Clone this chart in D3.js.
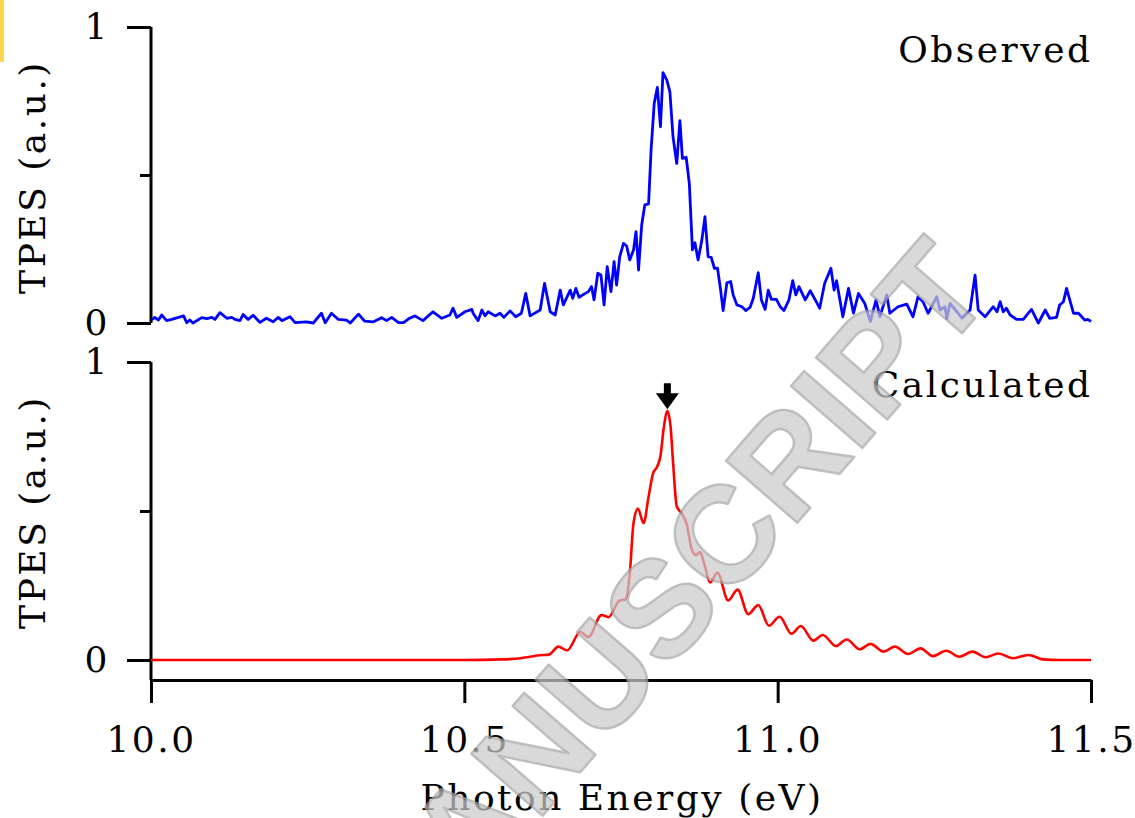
<!DOCTYPE html>
<html>
<head>
<meta charset="utf-8">
<script src="https://cdn.jsdelivr.net/npm/d3@7"></script>
<style>
  body { margin: 0; background: #fff; }
  text { font-family: "DejaVu Serif", serif; fill: #000; }
</style>
</head>
<body>
<div id="chart"></div>
<script>
// Observed TPES (top panel)
const obsEnergy = [
  10.001, 10.006, 10.012, 10.017, 10.025, 10.033, 10.052, 10.057, 10.062, 10.067,
  10.081, 10.089, 10.097, 10.102, 10.110, 10.121, 10.129, 10.134, 10.142, 10.147,
  10.155, 10.163, 10.174, 10.184, 10.195, 10.203, 10.209, 10.222, 10.230, 10.248,
  10.259, 10.272, 10.278, 10.288, 10.299, 10.312, 10.318, 10.331, 10.341, 10.355,
  10.368, 10.376, 10.384, 10.395, 10.403, 10.411, 10.421, 10.434, 10.450, 10.464,
  10.477, 10.482, 10.488, 10.501, 10.512, 10.514, 10.522, 10.528, 10.533, 10.538,
  10.549, 10.557, 10.563, 10.573, 10.582, 10.591, 10.598, 10.605, 10.621, 10.628,
  10.637, 10.645, 10.653, 10.658, 10.669, 10.673, 10.678, 10.683, 10.693, 10.698,
  10.703, 10.707, 10.713, 10.718, 10.723, 10.728, 10.734, 10.739, 10.743, 10.748,
  10.754, 10.759, 10.764, 10.770, 10.774, 10.778, 10.783, 10.788, 10.794, 10.798,
  10.803, 10.808, 10.813, 10.817, 10.823, 10.828, 10.833, 10.839, 10.844, 10.848,
  10.854, 10.859, 10.864, 10.868, 10.873, 10.879, 10.884, 10.889, 10.894, 10.899,
  10.904, 10.909, 10.913, 10.919, 10.925, 10.929, 10.935, 10.943, 10.949, 10.956,
  10.961, 10.969, 10.974, 10.980, 10.985, 10.990, 10.998, 11.004, 11.010, 11.018,
  11.024, 11.029, 11.034, 11.044, 11.052, 11.060, 11.067, 11.075, 11.085, 11.090,
  11.094, 11.104, 11.113, 11.121, 11.129, 11.139, 11.148, 11.157, 11.163, 11.174,
  11.179, 11.192, 11.206, 11.216, 11.224, 11.232, 11.240, 11.254, 11.259, 11.267,
  11.270, 11.275, 11.286, 11.294, 11.307, 11.315, 11.320, 11.331, 11.344, 11.350,
  11.355, 11.360, 11.365, 11.371, 11.381, 11.392, 11.400, 11.405, 11.416, 11.427,
  11.434, 11.445, 11.450, 11.456, 11.461, 11.472, 11.480, 11.490, 11.495, 11.500
];
const obsTpes = [
  0.010, 0.019, 0.010, 0.027, 0.008, 0.012, 0.024, 0.001, 0.010, 0.000,
  0.018, 0.015, 0.019, 0.012, 0.035, 0.016, 0.019, 0.012, 0.008, 0.029,
  0.012, 0.026, 0.002, 0.016, 0.004, 0.019, 0.008, 0.021, 0.001, 0.004,
  0.000, 0.033, 0.001, 0.033, 0.012, 0.010, 0.000, 0.030, 0.006, 0.004,
  0.018, 0.008, 0.019, 0.001, 0.001, 0.014, 0.024, 0.008, 0.038, 0.016,
  0.027, 0.050, 0.019, 0.038, 0.046, 0.033, 0.008, 0.044, 0.024, 0.038,
  0.024, 0.033, 0.019, 0.041, 0.021, 0.033, 0.100, 0.024, 0.044, 0.134,
  0.038, 0.027, 0.111, 0.061, 0.111, 0.083, 0.117, 0.087, 0.100, 0.106,
  0.123, 0.078, 0.168, 0.162, 0.061, 0.190, 0.106, 0.207, 0.128, 0.224,
  0.269, 0.260, 0.213, 0.247, 0.309, 0.179, 0.331, 0.399, 0.402, 0.584,
  0.742, 0.796, 0.663, 0.846, 0.821, 0.782, 0.629, 0.539, 0.684, 0.556,
  0.560, 0.472, 0.247, 0.271, 0.213, 0.280, 0.359, 0.224, 0.222, 0.185,
  0.185, 0.111, 0.042, 0.136, 0.140, 0.095, 0.061, 0.055, 0.042, 0.053,
  0.083, 0.170, 0.078, 0.046, 0.111, 0.080, 0.080, 0.055, 0.042, 0.078,
  0.143, 0.095, 0.123, 0.078, 0.109, 0.078, 0.050, 0.134, 0.185, 0.111,
  0.143, 0.021, 0.117, 0.033, 0.100, 0.066, 0.005, 0.078, 0.021, 0.095,
  0.033, 0.055, 0.064, 0.021, 0.089, 0.072, 0.033, 0.089, 0.044, 0.055,
  0.016, 0.066, 0.038, 0.016, 0.044, 0.162, 0.044, 0.021, 0.055, 0.038,
  0.072, 0.038, 0.050, 0.027, 0.012, 0.012, 0.033, 0.046, 0.000, 0.044,
  0.016, 0.019, 0.061, 0.072, 0.117, 0.033, 0.033, 0.010, 0.012, 0.005
];

// Calculated TPES (bottom panel): turning points of the smooth curve
const calcEnergy = [
  10.000, 10.300, 10.500, 10.560, 10.590, 10.605, 10.620, 10.635, 10.650, 10.664,
  10.685, 10.698, 10.719, 10.730, 10.748, 10.757, 10.764, 10.770, 10.777, 10.786,
  10.794, 10.801, 10.808, 10.813, 10.818, 10.824, 10.829, 10.833, 10.839, 10.847,
  10.855, 10.863, 10.870, 10.876, 10.883, 10.892, 10.904, 10.921, 10.936, 10.953,
  10.969, 10.986, 11.003, 11.022, 11.037, 11.057, 11.072, 11.093, 11.110, 11.131,
  11.148, 11.169, 11.187, 11.208, 11.228, 11.248, 11.269, 11.290, 11.311, 11.332,
  11.352, 11.376, 11.400, 11.424, 11.450, 11.500
];
const calcTpes = [
  0.000, 0.000, 0.000, 0.002, 0.006, 0.011, 0.016, 0.018, 0.045, 0.032,
  0.094, 0.077, 0.151, 0.144, 0.200, 0.203, 0.290, 0.460, 0.508, 0.459,
  0.548, 0.625, 0.650, 0.685, 0.775, 0.835, 0.785, 0.665, 0.515, 0.492,
  0.455, 0.370, 0.352, 0.362, 0.322, 0.260, 0.293, 0.200, 0.236, 0.154,
  0.184, 0.115, 0.145, 0.088, 0.114, 0.065, 0.084, 0.047, 0.069, 0.036,
  0.054, 0.028, 0.045, 0.020, 0.039, 0.013, 0.031, 0.011, 0.028, 0.009,
  0.022, 0.006, 0.017, 0.002, 0.000, 0.000
];

const xTicks = [10.0, 10.5, 11.0, 11.5];
const yTicks = [0, 1];
const yMinorTicks = [0.5];
const panelLabels = ["Observed", "Calculated"];

const W = 1135, H = 818;
const fontSize = "36px", spacing = "2.5px";

const svg = d3.select("#chart").append("svg")
  .attr("width", W)
  .attr("height", H);

// small yellow mark at the top-left corner of the page
svg.append("rect")
  .attr("x", 0).attr("y", 0)
  .attr("width", 4).attr("height", 62)
  .attr("fill", "#ffd44f");

// Scales
const x = d3.scaleLinear().domain([10, 11.5]).range([151, 1091]);
const yTop = d3.scaleLinear().domain([0, 1]).range([323, 27]);
const yBot = d3.scaleLinear().domain([0, 1]).range([660, 362]);
const xAxisY = 680;

// Y axes for both panels
function drawYAxis(scale, bottomEnd) {
  const g = svg.append("g").attr("transform", "translate(" + x(10) + ",0)");
  g.append("line")
    .attr("x1", 0).attr("x2", 0)
    .attr("y1", scale(1)).attr("y2", bottomEnd)
    .attr("stroke", "#000").attr("stroke-width", 3);
  const major = g.append("g")
    .call(d3.axisLeft(scale).tickValues(yTicks).tickFormat(d3.format("d"))
      .tickSize(24).tickPadding(17).tickSizeOuter(0));
  const minor = g.append("g")
    .call(d3.axisLeft(scale).tickValues(yMinorTicks).tickFormat("")
      .tickSize(11).tickSizeOuter(0));
  [major, minor].forEach(a => {
    a.select(".domain").remove();
    a.selectAll("line").attr("stroke-width", 3);
  });
  major.selectAll("text")
    .style("font-family", "DejaVu Serif")
    .style("font-size", fontSize)
    .style("letter-spacing", spacing);
}
drawYAxis(yTop, yTop(0));
drawYAxis(yBot, xAxisY);

// X axis (bottom panel only)
const xg = svg.append("g")
  .attr("transform", "translate(0," + xAxisY + ")")
  .call(d3.axisBottom(x).tickValues(xTicks).tickFormat(d3.format(".1f"))
    .tickSize(23).tickPadding(23).tickSizeOuter(0));
xg.select(".domain").attr("stroke-width", 3);
xg.selectAll("line").attr("stroke-width", 3);
xg.selectAll("text")
  .style("font-family", "DejaVu Serif")
  .style("font-size", fontSize)
  .style("letter-spacing", spacing);

// Lines
const obsData = obsEnergy.map((e, i) => ({ e: e, v: obsTpes[i] }));
const calcData = calcEnergy.map((e, i) => ({ e: e, v: calcTpes[i] }));

svg.append("path")
  .datum(obsData)
  .attr("fill", "none")
  .attr("stroke", "#0000ff")
  .attr("stroke-width", 2.8)
  .attr("stroke-linejoin", "round")
  .attr("d", d3.line().x(d => x(d.e)).y(d => yTop(d.v)));

svg.append("path")
  .datum(calcData)
  .attr("fill", "none")
  .attr("stroke", "#ff0000")
  .attr("stroke-width", 2.6)
  .attr("d", d3.line().curve(d3.curveMonotoneX).x(d => x(d.e)).y(d => yBot(d.v)));

// Arrow marking the calculated maximum
const peak = d3.greatest(calcData, d => d.v);
const ax = x(peak.e), ay = yBot(peak.v) - 2;
svg.append("path")
  .attr("d", `M${ax - 3.5},${ay - 26} L${ax + 3.5},${ay - 26} L${ax + 3.5},${ay - 16}
              L${ax + 11.5},${ay - 16} L${ax},${ay} L${ax - 11.5},${ay - 16} L${ax - 3.5},${ay - 16} Z`)
  .attr("fill", "#000");

// Panel labels
[[panelLabels[0], 62], [panelLabels[1], 397]].forEach(([t, yy]) => {
  svg.append("text")
    .attr("x", 1092.5).attr("y", yy)
    .attr("text-anchor", "end")
    .style("font-size", fontSize)
    .style("letter-spacing", spacing)
    .text(t);
});

// Axis titles
[177, 512].forEach(cy => {
  svg.append("text")
    .attr("transform", "translate(45," + cy + ") rotate(-90)")
    .attr("text-anchor", "middle")
    .style("font-size", fontSize)
    .style("letter-spacing", spacing)
    .text("TPES (a.u.)");
});

svg.append("text")
  .attr("x", 622).attr("y", 810)
  .attr("text-anchor", "middle")
  .style("font-size", fontSize)
  .style("letter-spacing", spacing)
  .text("Photon Energy (eV)");

// Watermark
svg.append("text")
  .attr("transform", "translate(996,294) rotate(-49)")
  .attr("text-anchor", "end")
  .style("font-family", "Liberation Sans")
  .style("font-weight", "bold")
  .style("font-size", "137px")
  .style("fill", "#cbcbcb")
  .style("stroke", "#a6a6a6")
  .style("stroke-width", 2.5)
  .style("stroke-linejoin", "round")
  .style("opacity", 0.72)
  .text("ACCEPTED MANUSCRIPT");
</script>
</body>
</html>
